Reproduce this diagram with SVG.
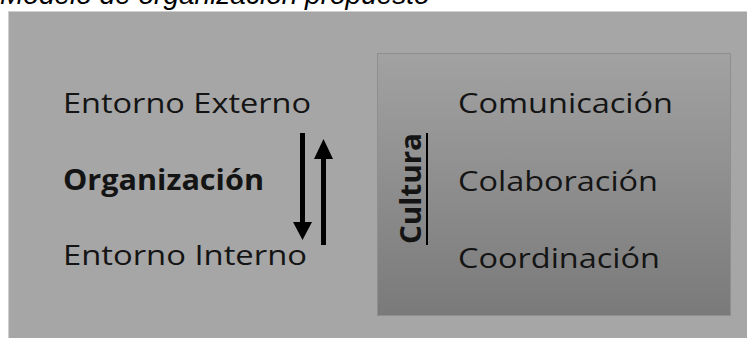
<svg xmlns="http://www.w3.org/2000/svg" width="747" height="338" viewBox="0 0 747 338">
<style>
.t{font-family:"Open Sans","Noto Sans","DejaVu Sans",sans-serif;font-size:28px;fill:#141414}
.b{font-weight:bold}
.cap{font-family:"Liberation Sans",Arial,sans-serif;font-style:italic;font-size:28px;fill:#000}
.arr{fill:#000}
</style>
<defs>
<linearGradient id="g" x1="0" y1="0" x2="0" y2="1">
<stop offset="0" stop-color="#a2a2a2"/>
<stop offset="1" stop-color="#7a7a7a"/>
</linearGradient>
</defs>
<rect width="747" height="338" fill="#fff"/>
<text class="cap" x="0" y="4">Modelo de organización propuesto</text>
<g id="outer">
<rect x="8.5" y="11.5" width="740" height="328" fill="#a6a6a6" stroke="#cfcfcf" stroke-width="1"/>
</g>
<g id="left">
<text class="t" x="63" y="113" textLength="248" lengthAdjust="spacingAndGlyphs">Entorno Externo</text>
<text class="t b" x="63" y="190" textLength="201" lengthAdjust="spacingAndGlyphs">Organización</text>
<text class="t" x="63" y="265" textLength="244" lengthAdjust="spacingAndGlyphs">Entorno Interno</text>
</g>
<g id="culture-box">
<rect x="377.5" y="53.5" width="353" height="262" fill="url(#g)" stroke="#8e8e8e" stroke-width="1"/>
<text class="t b" transform="translate(421,244) rotate(-90)" x="0" y="0" textLength="111" lengthAdjust="spacingAndGlyphs">Cultura</text>
<line x1="427" y1="133" x2="427" y2="245" stroke="#000" stroke-width="2"/>
<text class="t" x="458" y="113" textLength="215" lengthAdjust="spacingAndGlyphs">Comunicación</text>
<text class="t" x="458" y="191" textLength="200" lengthAdjust="spacingAndGlyphs">Colaboración</text>
<text class="t" x="458" y="268" textLength="202" lengthAdjust="spacingAndGlyphs">Coordinación</text>
</g>
<g id="connectors">
<path class="arr" d="M300,133 H305 V222 H312 L302.5,240 L293,222 H300 Z"/>
<path class="arr" d="M321,245 H326 V159 H333 L323.5,139 L314,159 H321 Z"/>
</g>
</svg>
